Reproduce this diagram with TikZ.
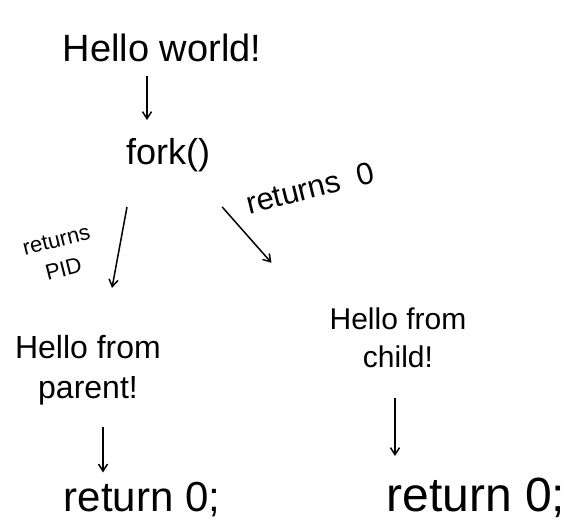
\documentclass[tikz,border=0pt]{standalone}
\usepackage{fontspec}
\setmainfont{Liberation Sans}
\usepackage{tikz}
\usetikzlibrary{arrows.meta, positioning}

\begin{document}
\begin{tikzpicture}[
    x=1pt, y=-1pt,
    txt/.style={inner sep=0pt, align=center, text=black},
    arr/.style={-{Straight Barb[length=7pt, width=9pt]}, line width=1.5pt, black}
]
\useasboundingbox (0,0) rectangle (579,531);

\node[txt, font=\fontsize{38}{44}\selectfont] (hello) at (162,48) {Hello world!};
\node[txt, font=\fontsize{36}{42}\selectfont] (fork) at (168,155) {fork()};

\node[txt, font=\fontsize{22}{30}\selectfont, rotate=14] (lblpid) at (60,255) {returns\\PID};
\node[txt, font=\fontsize{31}{36}\selectfont, rotate=14] (lblzero) at (310,188) {returns\ \ 0};

\node[txt, font=\fontsize{32}{40}\selectfont] (parent) at (88,370) {Hello from\\parent!};
\node[txt, font=\fontsize{30}{38}\selectfont] (child) at (398,338) {Hello from\\child!};

\node[txt, font=\fontsize{42}{48}\selectfont] (retp) at (142,500) {return 0;};
\node[txt, font=\fontsize{48}{54}\selectfont] (retc) at (476,498) {return 0;};

% arrows
\draw[arr, shorten <=14pt, shorten >=18pt] ([xshift=-15pt]hello.south) -- ([xshift=-21pt]fork.north);
\draw[arr] ([shift={(-41pt,-35pt)}]fork.south) -- ([shift={(24pt,47pt)}]parent.north);
\draw[arr] ([shift={(12pt,-35pt)}]fork.south east) -- ([shift={(-58pt,45pt)}]child.north west);
\draw[arr, shorten <=22pt, shorten >=10pt] ([xshift=15pt]parent.south) -- ([xshift=-39pt]retp.north);
\draw[arr, shorten <=30pt, shorten >=22pt] ([xshift=-3pt]child.south) -- ([xshift=-81pt]retc.north);

\end{tikzpicture}
\end{document}
